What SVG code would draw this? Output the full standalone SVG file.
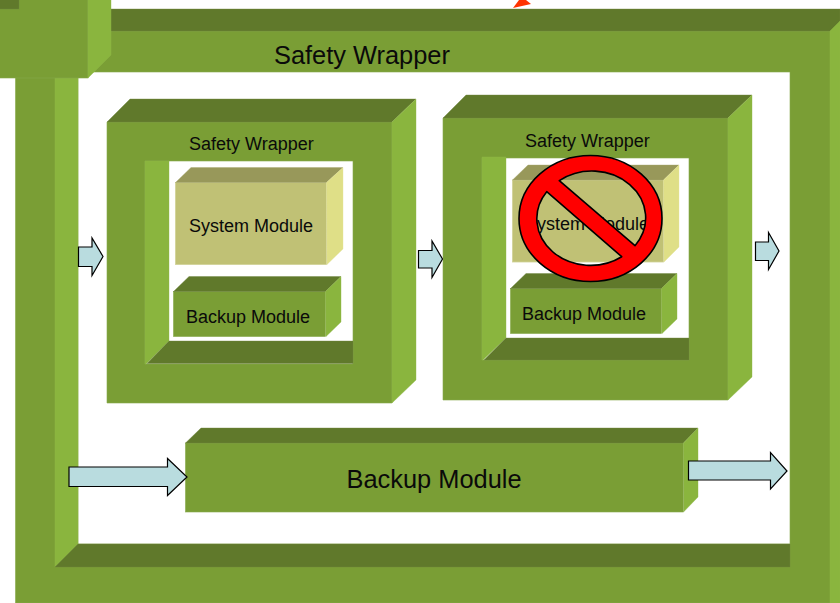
<svg xmlns="http://www.w3.org/2000/svg" width="840" height="603" viewBox="0 0 840 603">
<style>
.f{fill:#7a9e35;stroke:#86a84a;stroke-width:.6}
.t{fill:#60792b;stroke:#6f8740;stroke-width:.4}
.s{fill:#8ab53e;stroke:#8fb84a;stroke-width:.4}
.wf{fill:#c0c175;stroke:#d0d197;stroke-width:.8}
.wt{fill:#98985a;stroke:#a8a870;stroke-width:.4}
.ws{fill:#dfdf87;stroke:#e4e49a;stroke-width:.4}
.a{fill:#b9dcdf;stroke:#000;stroke-width:1.2}
text{font-family:"Liberation Sans",Arial,sans-serif;fill:#0a0a0a}
.l{font-size:18px}
.b{font-size:25.4px}
</style>
<rect width="840" height="603" fill="#fff"/>
<g id="outer-wrapper">
<path class="f" d="M15.500 31H840V603H15.500ZM78 72V544H790V72Z" fill-rule="evenodd"/>
<path class="t" d="M88 31L110 9H840V31Z"/>
<path class="s" d="M830 31L840 21V603H830Z"/>
<path class="s" d="M55 567V72H78V544Z"/>
<path class="t" d="M55 567L78 544H790V567Z"/>
<text class="b" x="274" y="64">Safety Wrapper</text>
</g>
<g id="corner-block">
<rect class="f" x="-1" y="-1" width="89" height="79"/>
<path class="s" d="M88 78L111 55V-1H88Z"/>
<rect class="t" x="-1" y="-1" width="20" height="10"/>
</g>
<path id="flag" d="M513 8L519 0H526L531 4Z" fill="#ff3300"/>
<g id="wrapper-left">
<path class="f" d="M107 122H392V403H107ZM145 161V364H353V161Z" fill-rule="evenodd"/>
<path class="t" d="M107 122L130 99H416L392 122Z"/>
<path class="s" d="M392 122L416 99V380L392 403Z"/>
<path class="s" d="M145 161H169V341L146 364H145Z"/>
<path class="t" d="M147 363.500L169 341H353V363.500Z"/>
<text class="l" x="189" y="150">Safety Wrapper</text>
</g>
<g id="system-left">
<rect class="wf" x="175.500" y="182.500" width="151" height="82"/>
<path class="wt" d="M175.500 182.500L191 167.500H343L326.500 182.500Z"/>
<path class="ws" d="M326.500 182.500L343 167.500V249L327 264.500Z"/>
<text class="l" x="189" y="232">System Module</text>
</g>
<g id="backup-left">
<rect class="f" x="173.500" y="291.500" width="152" height="45"/>
<path class="t" d="M173.500 291.500L189 276.500H341L325.500 291.500Z"/>
<path class="s" d="M325.500 291.500L341 276.500V322L326 336.500Z"/>
<text class="l" x="186" y="323">Backup Module</text>
</g>
<g id="wrapper-right">
<path class="f" d="M443 118H728V400H443ZM482 158V360H689V158Z" fill-rule="evenodd"/>
<path class="t" d="M443 118L466 95H752L728 118Z"/>
<path class="s" d="M728 118L752 95V377L728 400Z"/>
<path class="s" d="M482 157H506V338L483 360H482Z"/>
<path class="t" d="M484 360L506 338H689V360Z"/>
<text class="l" x="525" y="147">Safety Wrapper</text>
</g>
<g id="system-right">
<rect class="wf" x="512.500" y="180" width="151" height="82"/>
<path class="wt" d="M512.500 180L528 165H679L663.500 180Z"/>
<path class="ws" d="M663.500 180L679 165V247L664 262Z"/>
<text class="l" x="525" y="230">System Module</text>
</g>
<g id="backup-right">
<rect class="f" x="510.500" y="288.500" width="151" height="45"/>
<path class="t" d="M510.500 288.500L526 273.500H677L661.500 288.500Z"/>
<path class="s" d="M661.500 288.500L677 273.500V319L662 333.500Z"/>
<text class="l" x="522" y="320">Backup Module</text>
</g>
<g id="prohibition">
<path d="M519 218.500A71.500 63 0 1 1 662 218.500A71.500 63 0 1 1 519 218.500ZM559.300 180.700L635 245.700A53.700 46.700 0 0 0 559.300 180.700ZM546.700 191.700A53.700 46.700 0 0 0 621.700 256.700Z" fill="#ff0000" fill-rule="evenodd" stroke="#000" stroke-width="1.600" stroke-linejoin="round"/>
</g>
<g id="backup-main">
<rect class="f" x="185.500" y="443" width="498" height="69"/>
<path class="t" d="M185.500 443L201 428H698L683.500 443Z"/>
<path class="s" d="M683.500 443L698 428V497L684 511.500Z"/>
<text class="b" x="346.500" y="488">Backup Module</text>
</g>
<g id="connectors">
<path class="a" d="M78.500 247H92V238L103 256.500L92 275.500V266.500H78.500Z"/>
<path class="a" d="M418.500 250.500H432V241L442.500 259L432 277.500V268H418.500Z"/>
<path class="a" d="M755.500 242H768.500V232.500L779 251L768.500 269.500V260.500H755.500Z"/>
<path class="a" d="M69 467H167.500V458.500L187 477L167.500 495.500V486.500H69Z"/>
<path class="a" d="M688.500 461H770.500V452.500L787 471L770.500 489V480H688.500Z"/>
</g>
</svg>
